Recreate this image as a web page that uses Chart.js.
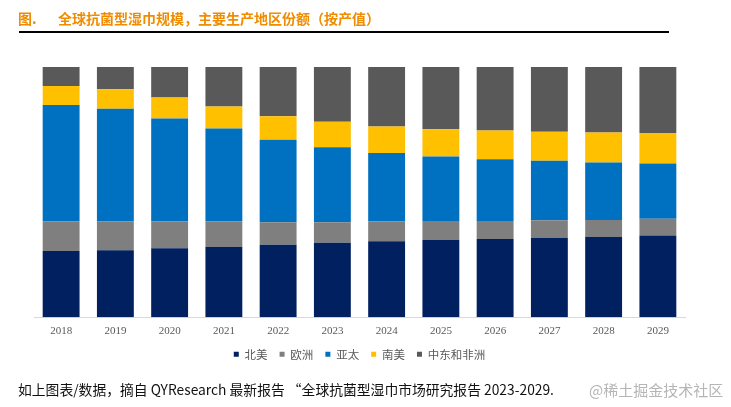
<!DOCTYPE html>
<html>
<head>
<meta charset="utf-8">
<script src="https://cdn.jsdelivr.net/npm/chart.js@4"></script>
<style>
  html, body { margin: 0; padding: 0; background: #fff; }
  body { width: 731px; height: 407px; position: relative; overflow: hidden; font-family: "Noto Sans CJK SC", "Noto Sans", sans-serif; }
  #wrap { position: absolute; left: 0; top: 0; width: 731px; height: 407px; }
  .title { position: absolute; top: 8px; font-size: 14px; font-weight: bold; color: #F08C00; line-height: 20px; white-space: nowrap; }
  #rule { position: absolute; left: 19px; top: 31px; width: 650px; height: 1.5px; background: #000; }
  #foot { position: absolute; left: 18px; top: 380px; font-size: 13.8px; color: #111; line-height: 19px; white-space: nowrap; }
  #mark { position: absolute; left: 589px; top: 380px; font-size: 15px; color: #B5B5B5; line-height: 20px; white-space: nowrap; }
</style>
</head>
<body>
<div id="wrap"><canvas id="c"></canvas></div>
<div class="title" style="left:18px">图.</div>
<div class="title" style="left:58px">全球抗菌型湿巾规模，主要生产地区份额（按产值）</div>
<div id="rule"></div>
<div id="foot">如上图表/数据，摘自 QYResearch 最新报告 “全球抗菌型湿巾市场研究报告 2023-2029.</div>
<div id="mark">@稀土掘金技术社区</div>
<script>
const years = ["2018","2019","2020","2021","2022","2023","2024","2025","2026","2027","2028","2029"];
const northAmerica = [26.5, 26.8, 27.6, 28.1, 29.0, 29.8, 30.4, 30.9, 31.3, 31.8, 32.1, 32.7];
const europe       = [11.8, 11.5, 10.7, 10.3,  9.0,  8.2,  7.9,  7.6,  7.2,  7.0,  6.8,  6.7];
const asiaPacific  = [46.5, 45.0, 41.1, 37.0, 32.9, 29.9, 27.3, 25.7, 24.6, 23.7, 22.9, 22.0];
const southAmerica = [ 7.6,  7.8,  8.4,  8.8,  9.4, 10.2, 10.6, 10.9, 11.5, 11.6, 12.0, 12.2];
const middleEastAfrica = [7.6, 8.9, 12.2, 15.8, 19.7, 21.9, 23.8, 24.9, 25.4, 25.9, 26.2, 26.4];

const seriesNames = ["北美", "欧洲", "亚太", "南美", "中东和非洲"];
const seriesData = [northAmerica, europe, asiaPacific, southAmerica, middleEastAfrica];
const seriesColors = ["#002060", "#7F7F7F", "#0070C0", "#FFC000", "#595959"];

new Chart(document.getElementById("c"), {
  type: "bar",
  data: {
    labels: years,
    datasets: seriesNames.map((n, i) => ({
      label: n,
      data: seriesData[i],
      backgroundColor: seriesColors[i],
      borderWidth: 0,
      barPercentage: 0.68,
      categoryPercentage: 1.0
    }))
  },
  options: {
    responsive: true,
    maintainAspectRatio: false,
    animation: false,
    layout: { padding: { top: 67, left: 34, right: 46, bottom: 37 } },
    plugins: {
      tooltip: { enabled: false },
      legend: {
        position: "bottom",
        labels: {
          boxWidth: 5, boxHeight: 5,
          padding: 4,
          color: "#595959",
          font: { family: "Noto Sans CJK SC", size: 11.5 },
          generateLabels: (chart) => {
            const items = Chart.defaults.plugins.legend.labels.generateLabels(chart);
            items.forEach((it, i) => { if (i < items.length - 1) it.text = it.text + "\u2002\u2009"; });
            return items;
          }
        }
      }
    },
    scales: {
      x: {
        stacked: true,
        grid: { display: false, drawTicks: false },
        border: { display: true, color: "#D9D9D9", width: 1 },
        ticks: { color: "#595959", padding: 7, font: { family: "Liberation Serif", size: 11 } }
      },
      y: {
        stacked: true,
        display: false,
        min: 0, max: 100
      }
    }
  }
});
</script>
</body>
</html>
